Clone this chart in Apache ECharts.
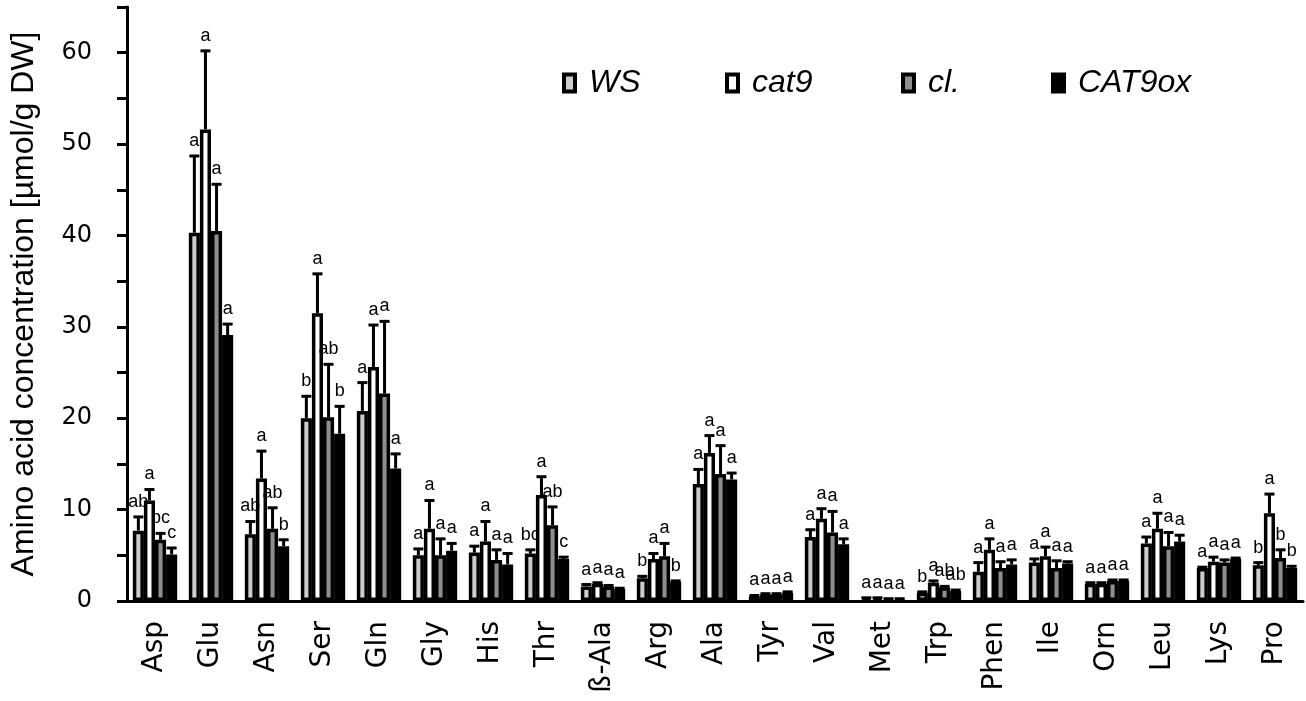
<!DOCTYPE html>
<html lang="en">
<head>
    <meta charset="UTF-8">
    <title>Amino acid concentration</title>
    <style type="text/css">
        * { margin: 0; padding: 0; }
        #main { width: 1306px; height: 701px; background: #fff; }
    </style>
</head>
<body>
<div id="main"></div>
<script src="https://cdn.jsdelivr.net/npm/echarts@6/dist/echarts.min.js"></script>
<script type="text/javascript">
    var categories = ['Asp', 'Glu', 'Asn', 'Ser', 'Gln', 'Gly', 'His', 'Thr', 'ß-Ala', 'Arg', 'Ala',
        'Tyr', 'Val', 'Met', 'Trp', 'Phen', 'Ile', 'Orn', 'Leu', 'Lys', 'Pro'];

    // means and upper error (SD) per genotype
    var wsValues  = [7.7, 40.3, 7.3, 20.0, 20.8, 5.0, 5.3, 5.2, 1.6, 2.5, 12.8, 0.5, 7.0, 0.3, 0.9, 3.2, 4.2, 1.9, 6.3, 3.6, 3.9];
    var wsErrors  = [1.5, 8.4, 1.4, 2.4, 3.1, 0.7, 0.7, 0.4, 0.2, 0.2, 1.6, 0.1, 0.8, 0.05, 0.1, 1.0, 0.4, 0.1, 0.7, 0.1, 0.3];
    var wsLetters = ['ab', 'a', 'ab', 'b', 'a', 'a', 'a', 'bc', 'a', 'b', 'a', 'a', 'a', 'a', 'b', 'a', 'a', 'a', 'a', 'a', 'b'];

    var cat9Values  = [11.0, 51.6, 13.4, 31.5, 25.6, 7.9, 6.5, 11.6, 1.9, 4.6, 16.2, 0.7, 9.0, 0.3, 2.0, 5.6, 4.9, 1.9, 7.9, 4.3, 9.6];
    var cat9Errors  = [1.2, 8.6, 3.0, 4.3, 4.6, 3.1, 2.2, 2.0, 0.1, 0.6, 1.9, 0.1, 1.1, 0.05, 0.2, 1.2, 1.0, 0.1, 1.7, 0.5, 2.1];
    var cat9Letters = ['a', 'a', 'a', 'a', 'a', 'a', 'a', 'a', 'a', 'a', 'a', 'a', 'a', 'a', 'a', 'a', 'a', 'a', 'a', 'a', 'a'];

    var clValues  = [6.7, 40.5, 7.9, 20.1, 22.7, 5.0, 4.5, 8.3, 1.6, 4.9, 13.9, 0.7, 7.5, 0.2, 1.5, 3.6, 3.6, 2.2, 6.0, 4.2, 4.7];
    var clErrors  = [0.7, 5.1, 2.3, 5.8, 7.9, 1.8, 1.1, 2.0, 0.1, 1.4, 3.1, 0.1, 2.3, 0.05, 0.1, 0.7, 0.8, 0.1, 1.5, 0.3, 0.9];
    var clLetters = ['bc', 'a', 'ab', 'ab', 'a', 'a', 'a', 'ab', 'a', 'a', 'a', 'a', 'a', 'a', 'ab', 'a', 'a', 'a', 'a', 'a', 'b'];

    var oxValues  = [5.1, 29.1, 6.0, 18.3, 14.5, 5.5, 4.0, 4.6, 1.3, 2.1, 13.3, 0.9, 6.2, 0.2, 1.1, 4.0, 4.1, 2.2, 6.5, 4.6, 3.6];
    var oxErrors  = [0.7, 1.2, 0.7, 3.0, 1.6, 0.8, 1.2, 0.2, 0.1, 0.1, 0.7, 0.1, 0.6, 0.05, 0.1, 0.5, 0.2, 0.1, 0.7, 0.1, 0.2];
    var oxLetters = ['c', 'a', 'b', 'b', 'a', 'a', 'a', 'c', 'a', 'b', 'a', 'a', 'a', 'a', 'ab', 'a', 'a', 'a', 'a', 'a', 'b'];

    var groups = [
        {name: 'WS', color: '#cdcdcd', values: wsValues, errors: wsErrors, letters: wsLetters, left: 557},
        {name: 'cat9', color: '#ffffff', values: cat9Values, errors: cat9Errors, letters: cat9Letters, left: 720},
        {name: 'cl.', color: '#8e8e8e', values: clValues, errors: clErrors, letters: clLetters, left: 896},
        {name: 'CAT9ox', color: '#000000', values: oxValues, errors: oxErrors, letters: oxLetters, left: 1046}
    ];

    var BAR_SHARE = 0.198;   // bar width as share of the category band

    var myChart = echarts.init(document.getElementById('main'));

    function errorRenderer(slot, letters) {
        return function (params, api) {
            var idx = api.value(0);
            var val = api.value(1);
            var err = api.value(2);
            var band = api.size([1, 0])[0];
            var low = api.coord([idx, val]);
            var high = api.coord([idx, val + err]);
            var x = low[0] + band * BAR_SHARE * (slot - 1.5);
            var children = [];
            if (low[1] - high[1] > 1) {
                children.push({
                    type: 'line',
                    shape: {x1: x, y1: low[1], x2: x, y2: high[1]},
                    style: {stroke: '#000', lineWidth: 3}
                });
            }
            children.push({
                type: 'line',
                shape: {x1: x - 5, y1: high[1], x2: x + 5, y2: high[1]},
                style: {stroke: '#000', lineWidth: 3}
            });
            var textY = Math.min(high[1] - 2, low[1] - 2) - 4;
            children.push({
                type: 'text',
                x: x,
                y: textY,
                style: {
                    text: letters[params.dataIndex],
                    fill: '#000',
                    fontSize: 18,
                    fontFamily: 'Liberation Sans',
                    align: 'center',
                    verticalAlign: 'bottom'
                }
            });
            return {type: 'group', children: children};
        };
    }

    var series = [];
    var legends = [];
    groups.forEach(function (g, i) {
        series.push({
            name: g.name,
            type: 'bar',
            barWidth: (BAR_SHARE * 100) + '%',
            barGap: '0%',
            data: g.values,
            itemStyle: {color: g.color, borderColor: '#000', borderWidth: 3.5},
            z: 2
        });
        legends.push({
            data: [g.name],
            left: g.left,
            top: 62,
            icon: 'rect',
            itemWidth: 11,
            itemHeight: 17,
            itemStyle: {borderColor: '#000', borderWidth: 4},
            textStyle: {
                fontSize: 32,
                fontStyle: 'italic',
                fontFamily: 'Liberation Sans',
                color: '#000',
                padding: [0, 0, 0, 9]
            }
        });
    });
    groups.forEach(function (g, i) {
        series.push({
            name: g.name + ' error',
            type: 'custom',
            renderItem: errorRenderer(i, g.letters),
            data: g.values.map(function (v, k) { return [k, v, g.errors[k]]; }),
            encode: {x: 0, y: 1},
            z: 5,
            silent: true
        });
    });

    var option = {
        animation: false,
        backgroundColor: '#fff',
        legend: legends,
        grid: {left: 123, right: 3, top: 7, bottom: 100, containLabel: false},
        xAxis: {
            type: 'category',
            data: categories,
            axisLine: {lineStyle: {color: '#000', width: 3}},
            axisTick: {length: 7, lineStyle: {color: '#000', width: 3}},
            axisLabel: {
                rotate: 90,
                margin: 20,
                color: '#000',
                fontSize: 28,
                fontFamily: 'DejaVu Sans',
                interval: 0
            }
        },
        yAxis: {
            type: 'value',
            min: 0,
            max: 65,
            interval: 5,
            name: 'Amino acid concentration [µmol/g DW]',
            nameLocation: 'middle',
            nameRotate: 90,
            nameGap: 87,
            nameTextStyle: {
                fontSize: 32,
                color: '#000',
                fontFamily: 'Liberation Sans'
            },
            splitLine: {show: false},
            axisLine: {show: true, lineStyle: {color: '#000', width: 3}},
            axisTick: {show: true, length: 10, lineStyle: {color: '#000', width: 3}},
            axisLabel: {
                margin: 35,
                color: '#000',
                fontSize: 24,
                fontFamily: 'DejaVu Sans',
                formatter: function (v) { return v % 10 === 0 ? String(v) : ''; }
            }
        },
        series: series
    };

    myChart.setOption(option);
</script>
</body>
</html>
